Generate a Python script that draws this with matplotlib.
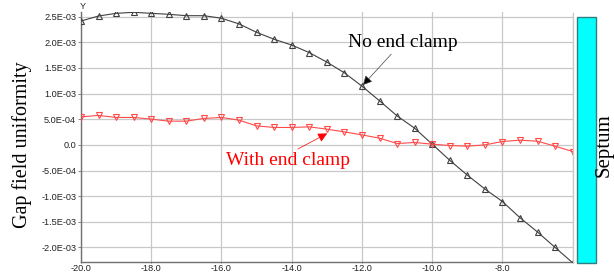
import matplotlib.pyplot as plt
from matplotlib.patches import Rectangle
from matplotlib.ticker import FuncFormatter

# positions along the gap (x) and uniformity values
x_pos = [-20.0, -19.5, -19.0, -18.5, -18.0, -17.5, -17.0, -16.5, -16.0, -15.5,
         -15.0, -14.5, -14.0, -13.5, -13.0, -12.5, -12.0, -11.5, -11.0, -10.5,
         -10.0, -9.5, -9.0, -8.5, -8.0, -7.5, -7.0, -6.5, -6.0]

no_clamp = [2.416e-3, 2.514e-3, 2.566e-3, 2.586e-3, 2.566e-3, 2.547e-3, 2.520e-3,
            2.520e-3, 2.470e-3, 2.360e-3, 2.195e-3, 2.060e-3, 1.947e-3, 1.800e-3,
            1.615e-3, 1.406e-3, 1.146e-3, 0.860e-3, 0.566e-3, 0.326e-3, 0.014e-3,
            -0.300e-3, -0.590e-3, -0.860e-3, -1.105e-3, -1.420e-3, -1.700e-3,
            -2.000e-3, -2.300e-3]

with_clamp = [0.547e-3, 0.574e-3, 0.535e-3, 0.535e-3, 0.502e-3, 0.463e-3, 0.463e-3,
              0.516e-3, 0.535e-3, 0.482e-3, 0.371e-3, 0.340e-3, 0.340e-3, 0.352e-3,
              0.307e-3, 0.254e-3, 0.195e-3, 0.131e-3, 0.027e-3, 0.047e-3, 0.014e-3,
              -0.012e-3, -0.025e-3, 0.000e-3, 0.066e-3, 0.092e-3, 0.072e-3,
              -0.025e-3, -0.129e-3]

x_ticks = [-20.0, -18.0, -16.0, -14.0, -12.0, -10.0, -8.0, -6.0]
y_ticks = [-2.0e-3, -1.5e-3, -1.0e-3, -0.5e-3, 0.0, 0.5e-3, 1.0e-3, 1.5e-3, 2.0e-3, 2.5e-3]

SERIF = "Liberation Serif"
SANS = "Liberation Sans"


def y_fmt(v, _pos):
    if abs(v) < 1e-12:
        return "0.0"
    return f"{v:.1E}"


def x_fmt(v, _pos):
    if v > -7:
        return ""
    return f"{v:.1f}"


fig = plt.figure(figsize=(6.14, 2.74), dpi=100)
ax = fig.add_axes([0.1319, 0.0427, 0.8008, 0.915])

ax.plot(x_pos, no_clamp, color="#404040", lw=0.8, marker="^", ms=5,
        mfc="none", mec="#404040", mew=0.8, zorder=3)
ax.plot(x_pos, with_clamp, color="#ff4a4a", lw=0.8, marker="v", ms=5,
        mfc="none", mec="#ff4a4a", mew=0.8, zorder=3)

ax.set_xlim(-20.0, -6.0)
ax.set_ylim(-2.29e-3, 2.6e-3)
ax.set_xticks(x_ticks)
ax.set_yticks(y_ticks)
ax.xaxis.set_major_formatter(FuncFormatter(x_fmt))
ax.yaxis.set_major_formatter(FuncFormatter(y_fmt))
ax.grid(True, color="#c8c8c8", lw=0.9)
ax.set_axisbelow(True)
for side in ("top", "right"):
    ax.spines[side].set_visible(False)
for side in ("left", "bottom"):
    ax.spines[side].set_color("#707070")
    ax.spines[side].set_linewidth(1.0)
ax.tick_params(length=2, width=0.6, color="#707070", labelsize=6.6, pad=1.5,
               labelcolor="#222222")
ax.tick_params(axis="x", length=1, pad=0.3)
for lbl in ax.get_xticklabels() + ax.get_yticklabels():
    lbl.set_family(SANS)

ax.set_ylabel("Gap field uniformity", family=SERIF, fontsize=14.5)
ax.yaxis.set_label_coords(-0.1, 0.468)
fig.text(0.1355, 0.975, "Y", family=SANS, fontsize=6.5, ha="center", va="center",
         color="#222222")

ax.annotate("No end clamp", xy=(-12.0, 1.146e-3), xytext=(-10.84, 1.99e-3),
            family=SERIF, fontsize=14, color="black", ha="center", va="center",
            arrowprops=dict(arrowstyle="-|>", color="#444444", lw=0.5,
                            mutation_scale=14, shrinkA=0, shrinkB=1,
                            relpos=(0.44, 0.15), fc="black"))
ax.annotate("With end clamp", xy=(-12.99, 0.223e-3), xytext=(-14.10, -0.30e-3),
            family=SERIF, fontsize=14, color="red", ha="center", va="center",
            arrowprops=dict(arrowstyle="-|>", color="red", lw=0.5,
                            mutation_scale=14, shrinkA=0, shrinkB=0,
                            relpos=(0.51, 0.9), fc="red"))

fig.add_artist(Rectangle((576.7 / 614, 1 - 263 / 274), 19 / 614, 246 / 274,
                         transform=fig.transFigure, facecolor="#00ffff",
                         edgecolor="#2f7f7f", lw=1.0))
fig.text(604 / 614, 1 - 145 / 274, "Septum", family=SERIF, fontsize=15,
         rotation=90, ha="center", va="center")
fig.add_artist(plt.Line2D([572.7 / 614, 572.7 / 614], [1 - 263 / 274, 1 - 13 / 274],
                          transform=fig.transFigure, color="#c8c8c8", lw=0.9))

fig.savefig("out.png", dpi=100)
